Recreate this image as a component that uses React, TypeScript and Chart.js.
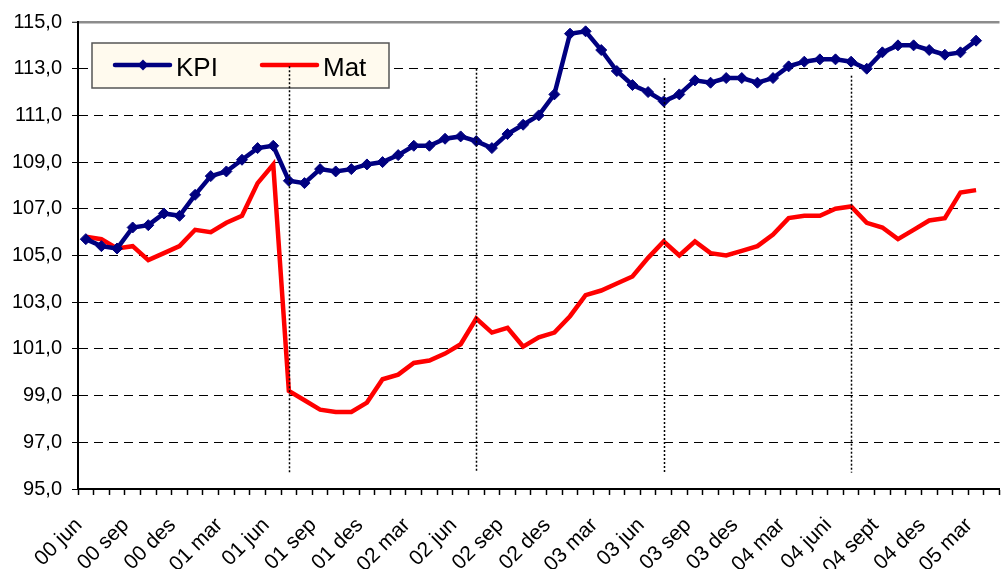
import React, { useEffect, useRef } from 'react';
import { Chart, registerables } from 'chart.js';

Chart.register(...registerables);

const FONT = 'Arial, "Liberation Sans", sans-serif';

const categories = [
  '00 jun', '00 jul', '00 aug', '00 sep', '00 okt', '00 nov', '00 des',
  '01 jan', '01 feb', '01 mar', '01 apr', '01 mai', '01 jun', '01 jul', '01 aug', '01 sep', '01 okt', '01 nov', '01 des',
  '02 jan', '02 feb', '02 mar', '02 apr', '02 mai', '02 jun', '02 jul', '02 aug', '02 sep', '02 okt', '02 nov', '02 des',
  '03 jan', '03 feb', '03 mar', '03 apr', '03 mai', '03 jun', '03 jul', '03 aug', '03 sep', '03 okt', '03 nov', '03 des',
  '04 jan', '04 feb', '04 mar', '04 apr', '04 mai', '04 juni', '04 juli', '04 aug', '04 sept', '04 okt', '04 nov', '04 des',
  '05 jan', '05 feb', '05 mar', '05 apr',
];

const kpi = [
  105.7, 105.4, 105.3, 106.2, 106.3, 106.8, 106.7, 107.6, 108.4, 108.6, 109.1, 109.6, 109.7,
  108.2, 108.1, 108.7, 108.6, 108.7, 108.9, 109.0, 109.3, 109.7, 109.7, 110.0, 110.1, 109.9, 109.6,
  110.2, 110.6, 111.0, 111.9, 114.5, 114.6, 113.8, 112.9, 112.3, 112.0, 111.6, 111.9, 112.5, 112.4, 112.6, 112.6, 112.4, 112.6,
  113.1, 113.3, 113.4, 113.4, 113.3, 113.0, 113.7, 114.0, 114.0, 113.8, 113.6, 113.7, 114.2,
];

const mat = [
  105.8, 105.7, 105.3, 105.4, 104.8, 105.1, 105.4, 106.1, 106.0, 106.4, 106.7, 108.1, 108.9,
  99.2, 98.8, 98.4, 98.3, 98.3, 98.7, 99.7, 99.9, 100.4, 100.5, 100.8, 101.2, 102.3, 101.7,
  101.9, 101.1, 101.5, 101.7, 102.4, 103.3, 103.5, 103.8, 104.1, 104.9, 105.6, 105.0, 105.6, 105.1, 105.0, 105.2, 105.4, 105.9,
  106.6, 106.7, 106.7, 107.0, 107.1, 106.4, 106.2, 105.7, 106.1, 106.5, 106.6, 107.7, 107.8,
];

const seriesNames = ['KPI', 'Mat'];
const yMin = 95;
const yMax = 115;
const yStep = 2;

// dotted yearly separators (July of each year)
const dividerMonths = ['01 jul', '02 jul', '03 jul', '04 juli'];
const dividerTops = [113.1, 113.0, 112.6, 112.7];
const dividerBottom = 95.7;

const legendPlugin = {
  id: 'boxLegend',
  afterDatasetsDraw(chart: any) {
    const { ctx, chartArea } = chart;
    const x0 = chartArea.left + 14;
    const y0 = chartArea.top + 21;
    const w = 297;
    const h = 45;
    ctx.save();
    ctx.fillStyle = '#FFFAEE';
    ctx.fillRect(x0, y0, w, h);
    ctx.strokeStyle = '#555555';
    ctx.lineWidth = 1.5;
    ctx.strokeRect(x0, y0, w, h);
    chart.data.datasets.forEach((ds: any, i: number) => {
      const sx = x0 + 23 + i * 147;
      const ly = y0 + 22;
      ctx.strokeStyle = ds.borderColor;
      ctx.lineWidth = 4.5;
      ctx.lineCap = 'round';
      ctx.setLineDash([]);
      ctx.beginPath();
      ctx.moveTo(sx, ly);
      ctx.lineTo(sx + 55, ly);
      ctx.stroke();
      if (ds.pointRadius > 0) {
        const cx = sx + 28;
        const r = 5.5;
        ctx.fillStyle = ds.pointBackgroundColor;
        ctx.beginPath();
        ctx.moveTo(cx, ly - r);
        ctx.lineTo(cx + r, ly);
        ctx.lineTo(cx, ly + r);
        ctx.lineTo(cx - r, ly);
        ctx.closePath();
        ctx.fill();
      }
      ctx.fillStyle = '#000000';
      ctx.font = `26px ${FONT}`;
      ctx.textAlign = 'left';
      ctx.textBaseline = 'alphabetic';
      ctx.fillText(ds.label, sx + 61, y0 + 33);
    });
    ctx.restore();
  },
};

const dividerPlugin = {
  id: 'dividers',
  afterDatasetsDraw(chart: any) {
    const { ctx } = chart;
    const xs = chart.scales.x;
    const ys = chart.scales.y;
    ctx.save();
    ctx.strokeStyle = '#000000';
    ctx.lineWidth = 1.5;
    ctx.setLineDash([2, 2]);
    dividerMonths.forEach((m, i) => {
      const x = Math.round(xs.getPixelForValue(categories.indexOf(m))) + 0.5;
      ctx.beginPath();
      ctx.moveTo(x, ys.getPixelForValue(dividerTops[i]));
      ctx.lineTo(x, ys.getPixelForValue(dividerBottom));
      ctx.stroke();
    });
    ctx.restore();
  },
};

export default function App() {
  const ref = useRef<HTMLCanvasElement>(null);
  useEffect(() => {
    const chart = new Chart(ref.current as HTMLCanvasElement, {
      type: 'line',
      data: {
        labels: categories,
        datasets: [
          {
            label: seriesNames[0],
            data: kpi,
            borderColor: '#000080',
            backgroundColor: '#000080',
            borderWidth: 4.5,
            pointStyle: 'rectRot',
            pointRadius: 5.5,
            pointBorderWidth: 1,
            pointBackgroundColor: '#000080',
            pointBorderColor: '#000080',
            tension: 0,
          } as any,
          {
            label: seriesNames[1],
            data: mat,
            borderColor: '#FF0000',
            backgroundColor: '#FF0000',
            borderWidth: 4.5,
            pointRadius: 0,
            tension: 0,
          } as any,
        ],
      },
      options: {
        animation: false,
        responsive: false,
        devicePixelRatio: 1,
        layout: { padding: { top: 21, right: 3, left: 0, bottom: 0 } },
        plugins: {
          legend: { display: false },
          tooltip: { enabled: false },
        },
        scales: {
          x: {
            type: 'category',
            offset: true,
            afterFit: (scale: any) => {
              scale.height = 80;
              scale.paddingLeft = 0;
              scale.paddingRight = 0;
            },
            grid: {
              display: true,
              offset: true,
              drawOnChartArea: false,
              drawTicks: true,
              tickLength: 6,
              tickColor: '#000000',
              tickWidth: 1.5,
            },
            border: { display: true, color: '#000000', width: 2 },
            ticks: {
              autoSkip: false,
              maxRotation: 45,
              minRotation: 45,
              padding: 18,
              labelOffset: -7,
              color: '#000000',
              font: { family: FONT, size: 21 },
              callback: (_v: any, i: number) => (i % 3 === 0 ? categories[i] : ''),
            },
          },
          y: {
            min: yMin,
            max: yMax,
            afterFit: (scale: any) => {
              scale.width = 78;
            },
            grid: {
              color: (c: any) => (c.tick && c.tick.value === yMax ? '#8c8c8c' : '#000000'),
              lineWidth: (c: any) => (c.tick && c.tick.value === yMax ? 2.5 : 1),
              drawTicks: true,
              tickLength: 6,
              tickColor: '#000000',
              tickWidth: 1,
            },
            border: {
              display: true,
              color: '#000000',
              width: 2,
              dash: (c: any) => (c.tick && c.tick.value === yMax ? [] : [9, 6]),
            } as any,
            ticks: {
              stepSize: yStep,
              padding: 10,
              color: '#000000',
              font: { family: FONT, size: 20 },
              callback: (v: any) => Number(v).toFixed(1).replace('.', ','),
            },
          },
        },
      },
      plugins: [legendPlugin, dividerPlugin],
    });
    return () => chart.destroy();
  }, []);
  return (
    <div style={{ position: 'absolute', left: 0, top: 0, width: 1006, height: 569, background: '#ffffff' }}>
      <canvas ref={ref} width={1006} height={569} style={{ display: 'block', width: 1006, height: 569 }} />
    </div>
  );
}
